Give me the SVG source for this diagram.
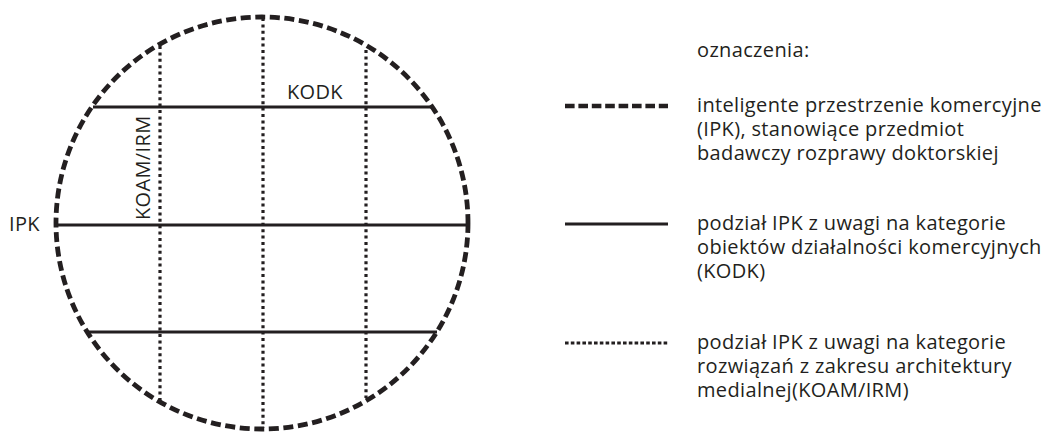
<svg xmlns="http://www.w3.org/2000/svg" width="1046" height="432" viewBox="0 0 1046 432">
  <style>
    .txt { font-family: "Open Sans", "Noto Sans", "DejaVu Sans", sans-serif; font-size: 20px; letter-spacing: 0.35px; fill: #231f20; }
    .boundary { fill: none; stroke: #231f20; stroke-width: 4.8; stroke-dasharray: 10 4.6; }
    .kodk { fill: none; stroke: #231f20; stroke-width: 3; }
    .koam { fill: none; stroke: #231f20; stroke-width: 3.2; stroke-dasharray: 3 3.4; }
  </style>

  <rect width="1046" height="432" fill="#ffffff"/>

  <!-- IPK boundary -->
  <g id="ipk">
    <circle class="boundary" cx="262" cy="223" r="206"/>
    <text class="txt" x="9" y="231">IPK</text>
  </g>

  <!-- division lines inside the circle -->
  <g id="connectors">
    <line class="kodk" x1="93" y1="107" x2="432" y2="107"/>
    <line class="kodk" x1="56" y1="225" x2="468" y2="225"/>
    <line class="kodk" x1="88" y1="332" x2="437" y2="332"/>
    <line class="koam" x1="160" y1="46" x2="160" y2="401"/>
    <line class="koam" x1="263" y1="18" x2="263" y2="428"/>
    <line class="koam" x1="366" y1="50" x2="366" y2="398"/>
  </g>

  <g id="label-kodk">
    <text class="txt" x="287" y="99">KODK</text>
  </g>
  <g id="label-koam">
    <text class="txt" transform="translate(150,220) rotate(-90)">KOAM/IRM</text>
  </g>

  <!-- legend -->
  <g id="legend">
    <text class="txt" x="697" y="57">oznaczenia:</text>

    <line fill="none" stroke="#231f20" stroke-width="4.5" stroke-dasharray="9.6 3.8" x1="565" y1="106" x2="668" y2="106"/>
    <text class="txt" x="697" y="112">inteligente przestrzenie komercyjne</text>
    <text class="txt" x="697" y="136">(IPK), stanowiące przedmiot</text>
    <text class="txt" x="697" y="160">badawczy rozprawy doktorskiej</text>

    <line class="kodk" x1="565" y1="224" x2="668" y2="224"/>
    <text class="txt" x="697" y="230">podział IPK z uwagi na kategorie</text>
    <text class="txt" x="697" y="254">obiektów działalności komercyjnych</text>
    <text class="txt" x="697" y="278">(KODK)</text>

    <line fill="none" stroke="#231f20" stroke-width="3.2" stroke-dasharray="3.6 2.2" x1="565" y1="343" x2="668" y2="343"/>
    <text class="txt" x="697" y="349">podział IPK z uwagi na kategorie</text>
    <text class="txt" x="697" y="373">rozwiązań z zakresu architektury</text>
    <text class="txt" x="697" y="397">medialnej(KOAM/IRM)</text>
  </g>
</svg>
